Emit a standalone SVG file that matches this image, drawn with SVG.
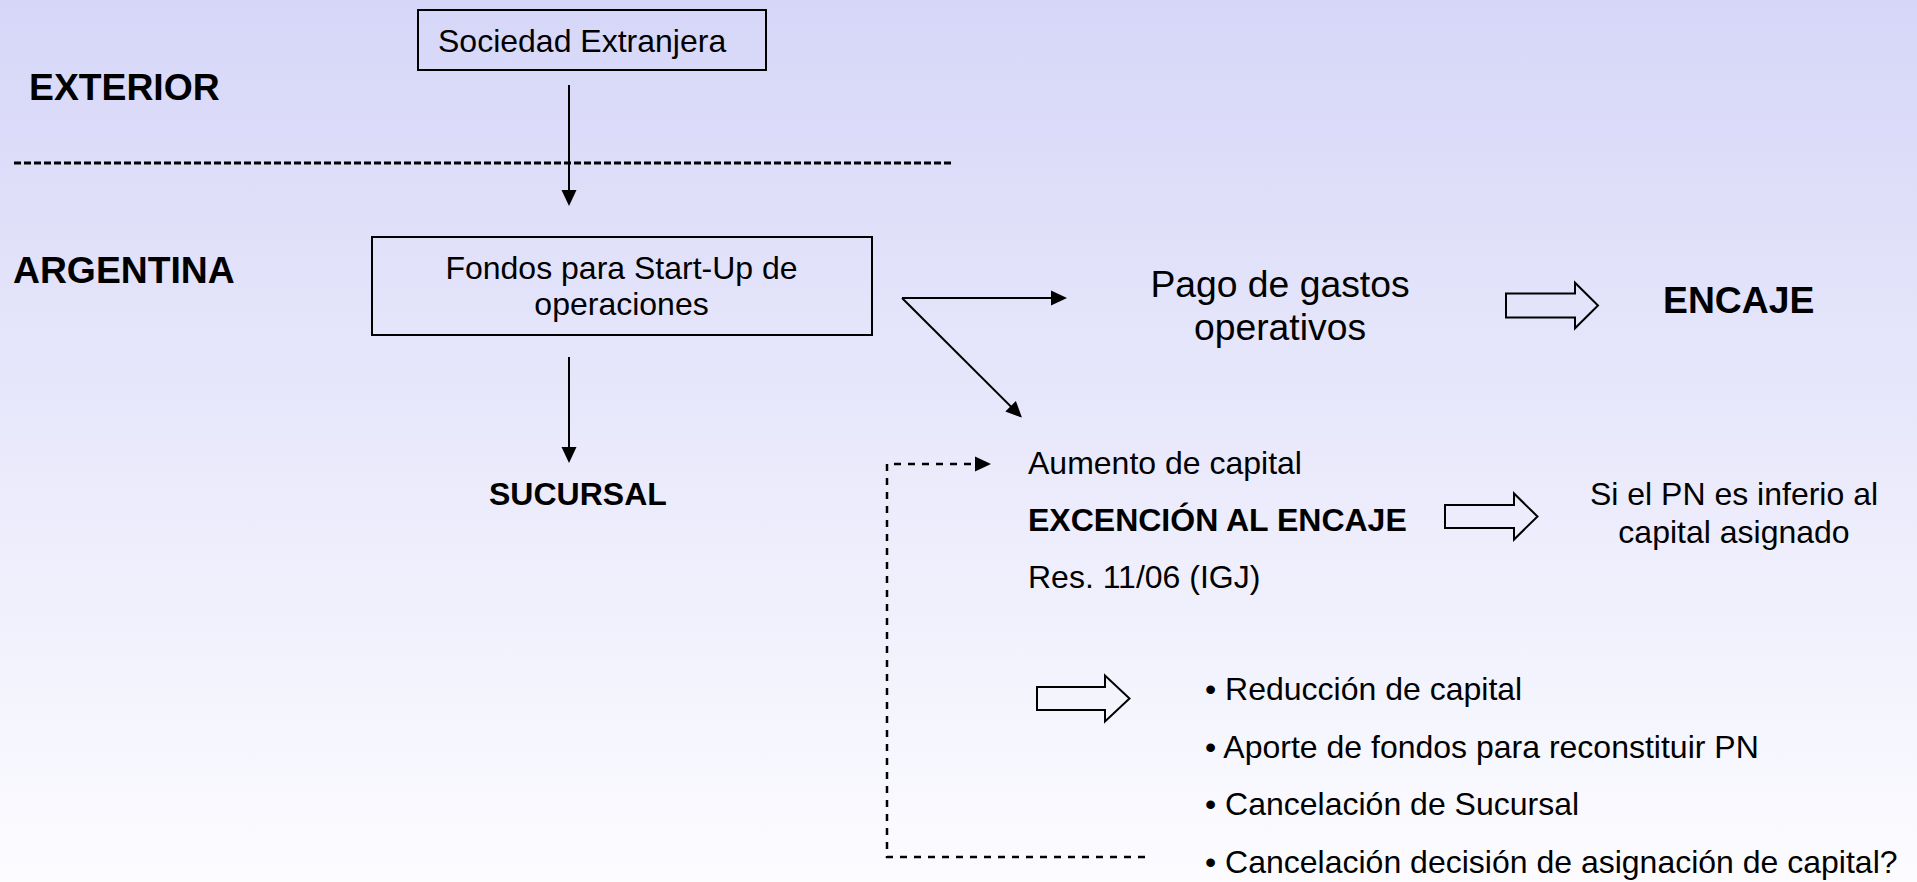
<svg xmlns="http://www.w3.org/2000/svg" width="1917" height="882" viewBox="0 0 1917 882">
<defs>
<linearGradient id="bg" x1="0" y1="0" x2="0" y2="1">
<stop offset="0" stop-color="#D6D6F8"/>
<stop offset="1" stop-color="#FCFCFF"/>
</linearGradient>
<marker id="ah" markerUnits="userSpaceOnUse" markerWidth="16" markerHeight="16" viewBox="0 0 16 15" refX="14" refY="7.5" orient="auto">
<path d="M0,0 L16,7.5 L0,15 z" fill="#000"/>
</marker>
</defs>
<style>
text{font-family:"Liberation Sans",Arial,sans-serif;fill:#000}
.n{font-size:32px}
.b{font-size:32px;font-weight:bold}
.L{font-size:37.3px}
.LB{font-size:37.3px;font-weight:bold}
.box{fill:none;stroke:#000;stroke-width:2}
.con{fill:none;stroke:#000;stroke-width:2}
.dash{fill:none;stroke:#000;stroke-width:2.5;stroke-dasharray:7,7}
.blk{fill:none;stroke:#000;stroke-width:2;stroke-linejoin:miter}
</style>
<rect x="0" y="0" width="1917" height="882" fill="url(#bg)"/>

<g id="labels">
<text class="LB" x="29" y="100">EXTERIOR</text>
<text class="LB" x="13" y="283">ARGENTINA</text>
</g>
<line id="border" x1="14" y1="163" x2="951" y2="163" stroke="#000" stroke-width="3.2" stroke-dasharray="7,3"/>

<g id="sociedad">
<rect class="box" x="418" y="10" width="348" height="60"/>
<text class="n" x="438" y="52">Sociedad Extranjera</text>
</g>
<g id="fondos">
<rect class="box" x="372" y="237" width="500" height="98"/>
<text class="n" x="621.5" y="279" text-anchor="middle">Fondos para Start-Up de</text>
<text class="n" x="621.5" y="315" text-anchor="middle">operaciones</text>
</g>
<g id="sucursal">
<text class="b" x="489" y="505">SUCURSAL</text>
</g>
<g id="pago">
<text class="L" x="1280" y="297" text-anchor="middle">Pago de gastos</text>
<text class="L" x="1280" y="340" text-anchor="middle">operativos</text>
</g>
<g id="encaje">
<text class="LB" x="1663" y="313">ENCAJE</text>
</g>
<g id="aumento">
<text class="n" x="1028" y="474">Aumento de capital</text>
<text class="b" x="1028" y="531">EXCENCIÓN AL ENCAJE</text>
<text class="n" x="1028" y="588">Res. 11/06 (IGJ)</text>
</g>
<g id="si-pn">
<text class="n" x="1734" y="505" text-anchor="middle">Si el PN es inferio al</text>
<text class="n" x="1734" y="543" text-anchor="middle">capital asignado</text>
</g>
<g id="opciones">
<text class="n" x="1205" y="700">• Reducción de capital</text>
<text class="n" x="1205" y="758">• Aporte de fondos para reconstituir PN</text>
<text class="n" x="1205" y="815">• Cancelación de Sucursal</text>
<text class="n" x="1205" y="873">• Cancelación decisión de asignación de capital?</text>
</g>

<g id="connectors">
<line class="con" x1="569" y1="85" x2="569" y2="204" marker-end="url(#ah)"/>
<line class="con" x1="569" y1="357" x2="569" y2="461" marker-end="url(#ah)"/>
<line class="con" x1="902" y1="298" x2="1065" y2="298" marker-end="url(#ah)"/>
<line class="con" x1="902" y1="298" x2="1020.5" y2="416.2" marker-end="url(#ah)"/>
<path class="dash" d="M1145,857 H887 V464 H989" marker-end="url(#ah)"/>
<path class="blk" d="M1506,293.5 H1575 V282.7 L1598,305.5 L1575,328.3 V317.5 H1506 Z"/>
<path class="blk" d="M1445,505 H1514 V493.5 L1537.5,516.5 L1514,539.5 V528 H1445 Z"/>
<path class="blk" d="M1037,687 H1105 V675.5 L1129.5,698.5 L1105,721.5 V710 H1037 Z"/>
</g>
</svg>
